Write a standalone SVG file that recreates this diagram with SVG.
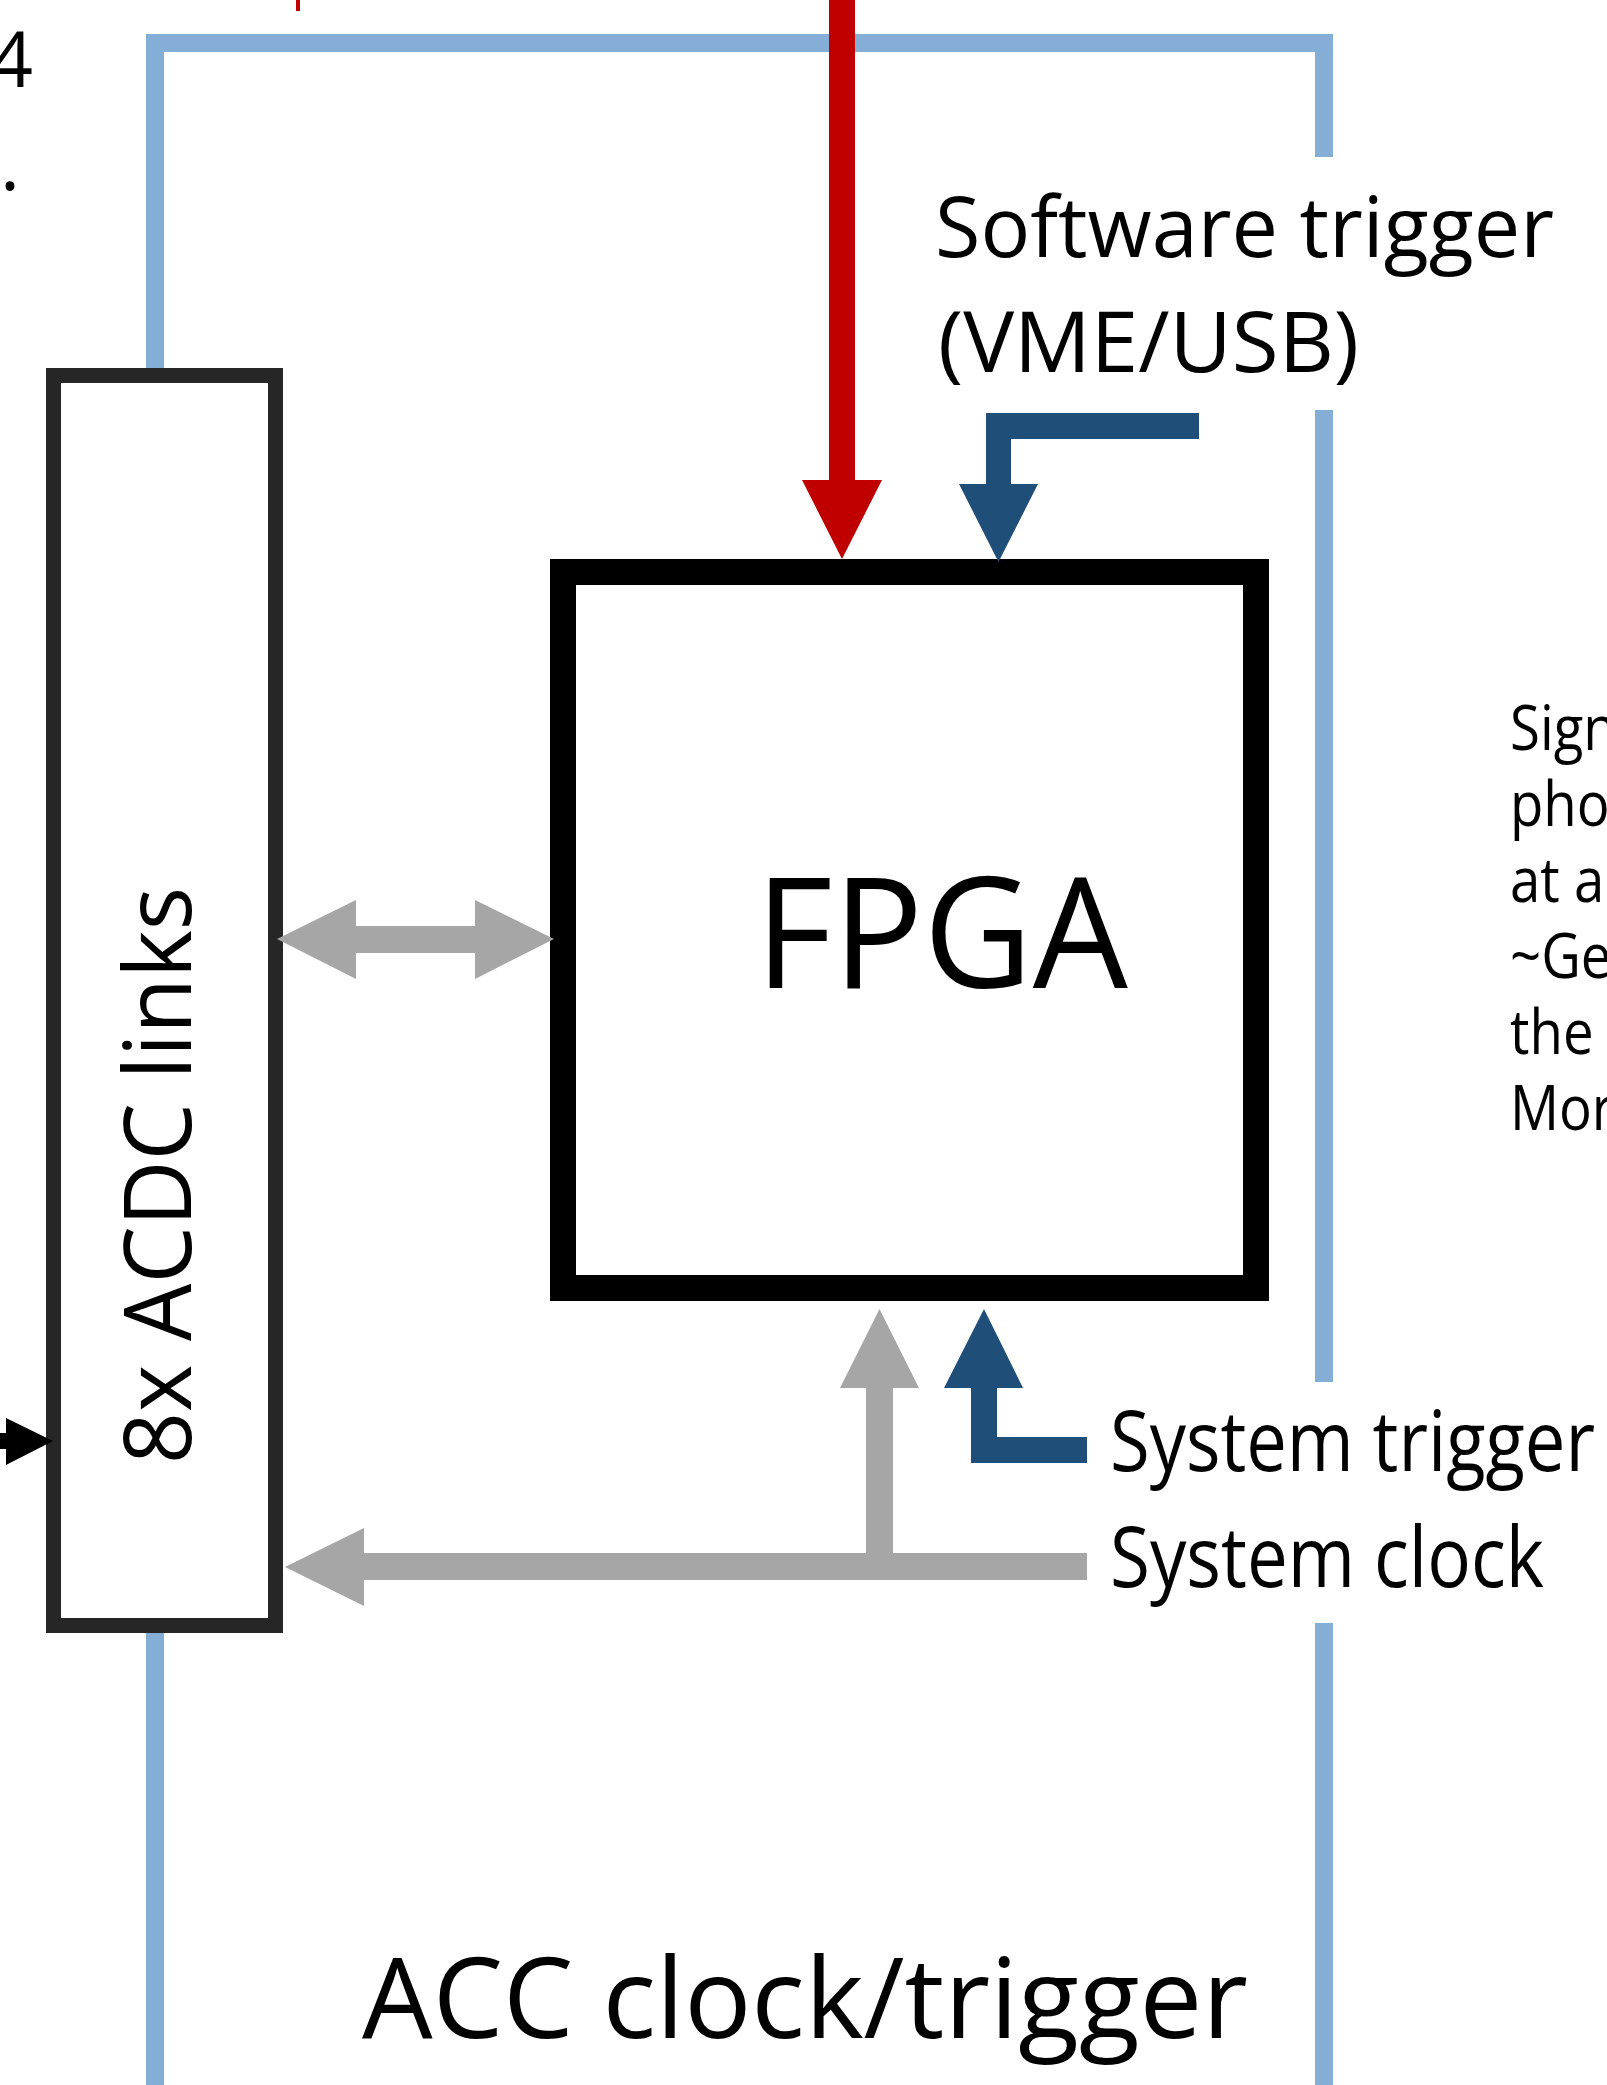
<svg xmlns="http://www.w3.org/2000/svg" width="1607" height="2085" viewBox="0 0 1607 2085">
<style>
.frame{fill:none;stroke:#84AED5;stroke-width:18;stroke-linejoin:miter;stroke-linecap:butt}
.t{font-family:"Open Sans","Noto Sans","Liberation Sans",sans-serif;fill:#000}
.gray{fill:#A6A6A6}
.dblue{fill:#1F4E79}
</style>
<rect width="1607" height="2085" fill="#fff"/>
<g id="frame">
<polyline class="frame" points="155,368 155,43 1324,43 1324,157"/>
<line class="frame" x1="1324" y1="410" x2="1324" y2="1382"/>
<line class="frame" x1="1324" y1="1623" x2="1324" y2="2085"/>
<line class="frame" x1="155" y1="1633" x2="155" y2="2085"/>
</g>
<g id="acdc">
<rect x="53.5" y="375.5" width="222" height="1250" fill="#fff" stroke="#262626" stroke-width="15"/>
<text class="t" transform="translate(191,1464) rotate(-90)" font-size="94" textLength="577" lengthAdjust="spacingAndGlyphs">8x ACDC links</text>
</g>
<g id="fpga">
<rect x="563" y="572" width="693" height="716" fill="#fff" stroke="#000" stroke-width="26"/>
<text class="t" x="755" y="988" font-size="154" textLength="373" lengthAdjust="spacingAndGlyphs">FPGA</text>
</g>
<g id="connectors">
<line x1="298" y1="0" x2="298" y2="11" stroke="#C00000" stroke-width="4"/>
<path fill="#C00000" d="M829,0 H855 V480 H882 L842,559 L802,480 H829 Z"/>
<path class="dblue" d="M1199,413 V439 H1011 V484 H1038 L998.5,562 L959,484 H986 V413 Z"/>
<path class="gray" d="M277,939 L356,900 V926 H475 V900 L554,939 L475,979 V953 H356 V979 Z"/>
<path class="gray" d="M1087,1553 V1580 H364 V1606 L285,1567 L364,1528 V1553 H866 V1388 H840 L879.5,1309 L919,1388 H893 V1553 Z"/>
<path class="dblue" d="M1087,1437 V1463 H971 V1388 H944 L984,1309 L1023,1388 H997 V1437 Z"/>
<path fill="#000" d="M0,1433 H6 V1418 L53,1441 L6,1465 V1449 H0 Z"/>
</g>
<g id="labels">
<text class="t" x="935" y="257" font-size="85" textLength="619" lengthAdjust="spacingAndGlyphs">Software trigger</text>
<text class="t" x="938" y="372" font-size="85" textLength="421" lengthAdjust="spacingAndGlyphs">(VME/USB)</text>
<text class="t" x="1110" y="1471" font-size="85" textLength="485" lengthAdjust="spacingAndGlyphs">System trigger</text>
<text class="t" x="1110" y="1587" font-size="85" textLength="434" lengthAdjust="spacingAndGlyphs">System clock</text>
<text class="t" x="362" y="2038" font-size="112" textLength="886" lengthAdjust="spacingAndGlyphs">ACC clock/trigger</text>
<text class="t" x="33" y="87" font-size="76" text-anchor="end">4</text>
<text class="t" x="20" y="190" font-size="76" text-anchor="end">.</text>
<g id="side-note" font-size="62" transform="translate(1510,0) scale(0.88,1)">
<text class="t" x="0" y="750">Sign</text>
<text class="t" x="0" y="826">pho</text>
<text class="t" x="0" y="902">at a</text>
<text class="t" x="0" y="978">~Ge</text>
<text class="t" x="0" y="1054">the</text>
<text class="t" x="0" y="1130">Mor</text>
</g>
</g>
</svg>
